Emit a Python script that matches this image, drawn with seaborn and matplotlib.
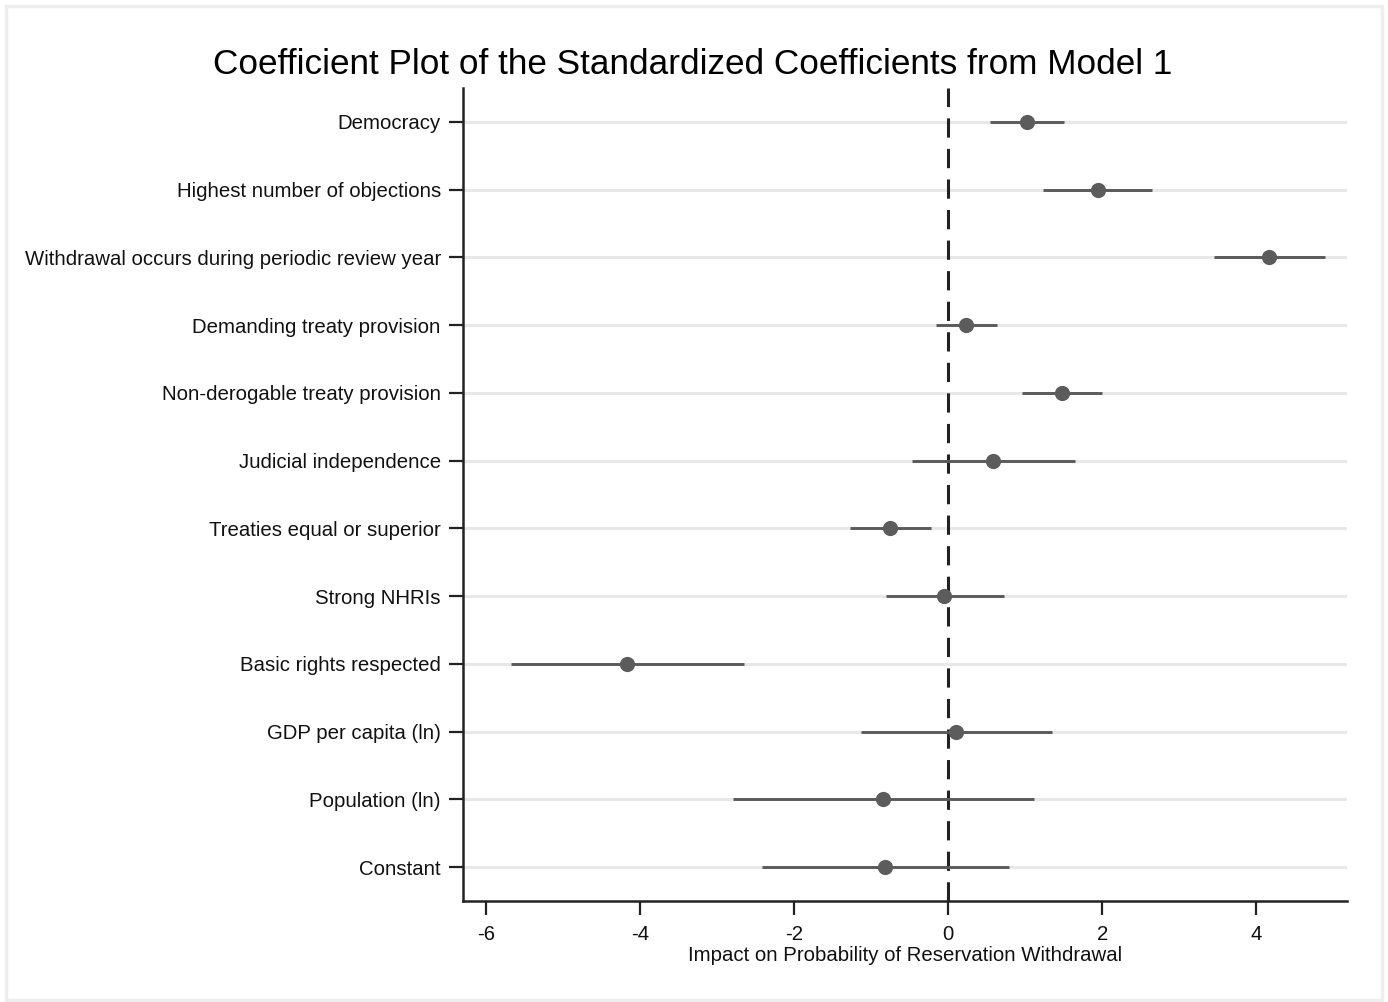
import matplotlib
matplotlib.use("Agg")
import matplotlib.pyplot as plt
import seaborn as sns
import pandas as pd
import numpy as np
from matplotlib.patches import Rectangle

variables = [
    "Democracy",
    "Highest number of objections",
    "Withdrawal occurs during periodic review year",
    "Demanding treaty provision",
    "Non-derogable treaty provision",
    "Judicial independence",
    "Treaties equal or superior",
    "Strong NHRIs",
    "Basic rights respected",
    "GDP per capita (ln)",
    "Population (ln)",
    "Constant",
]
coef = [1.03, 1.94, 4.17, 0.23, 1.48, 0.58, -0.75, -0.05, -4.17, 0.10, -0.84, -0.82]
ci_low = [0.55, 1.23, 3.45, -0.16, 0.96, -0.47, -1.27, -0.81, -5.68, -1.13, -2.79, -2.42]
ci_high = [1.51, 2.65, 4.90, 0.64, 2.00, 1.65, -0.22, 0.73, -2.65, 1.35, 1.12, 0.79]
x_ticks = [-6, -4, -2, 0, 2, 4]

df = pd.DataFrame({"variable": variables, "coef": coef, "lo": ci_low, "hi": ci_high})
df["pos"] = np.arange(len(df))

sns.set_theme(style="white")
plt.rcParams["font.family"] = ["Liberation Sans", "DejaVu Sans"]

fig = plt.figure(figsize=(13.88, 10.02), dpi=100)
ax = fig.add_axes([463 / 1388, 1 - 901 / 1002, (1347 - 463) / 1388, (901 - 88) / 1002])

# outer frame
fig.patches.append(Rectangle((6 / 1388, 2 / 1002), (1382 - 6) / 1388, (996 - 2) / 1002,
                             transform=fig.transFigure, fill=False, edgecolor="#eeeeee",
                             linewidth=2.5, zorder=0))

# grid lines
for p in df["pos"]:
    ax.axhline(p, color="#e8e8e8", linewidth=2.2, zorder=0)

ax.axvline(0, color="#222222", linewidth=2.2, linestyle=(0, (6.3, 3.7)), zorder=1)

ax.hlines(df["pos"], df["lo"], df["hi"], color="#5a5a5a", linewidth=2.1, zorder=2)
sns.scatterplot(data=df, x="coef", y="pos", ax=ax, s=120, color="#5c5c5c",
                edgecolor="#5c5c5c", linewidth=0, zorder=3, legend=False)

ax.set_ylim(len(df) - 0.5, -0.5)
ax.set_xlim(-6.30, 5.18)
ax.set_yticks(df["pos"])
ax.set_yticklabels(df["variable"])
ax.set_xticks(x_ticks)
ax.set_xticklabels([str(t) for t in x_ticks])

for s in ["top", "right"]:
    ax.spines[s].set_visible(False)
for s in ["left", "bottom"]:
    ax.spines[s].set_color("#222222")
    ax.spines[s].set_linewidth(1.8)

ax.tick_params(axis="both", which="major", length=10, width=1.6, color="#222222",
               labelsize=14.7, labelcolor="#111111", pad=6, left=True, bottom=True)
ax.tick_params(axis="x", pad=7)
ax.set_xlabel("Impact on Probability of Reservation Withdrawal", fontsize=14.7,
              color="#111111", labelpad=2)
ax.set_ylabel("")
fig.text(693 / 1388, 1 - 65 / 1002, "Coefficient Plot of the Standardized Coefficients from Model 1",
         ha="center", va="center", fontsize=25.3, color="#000000")

fig.savefig("out.png", dpi=100, facecolor="white")
